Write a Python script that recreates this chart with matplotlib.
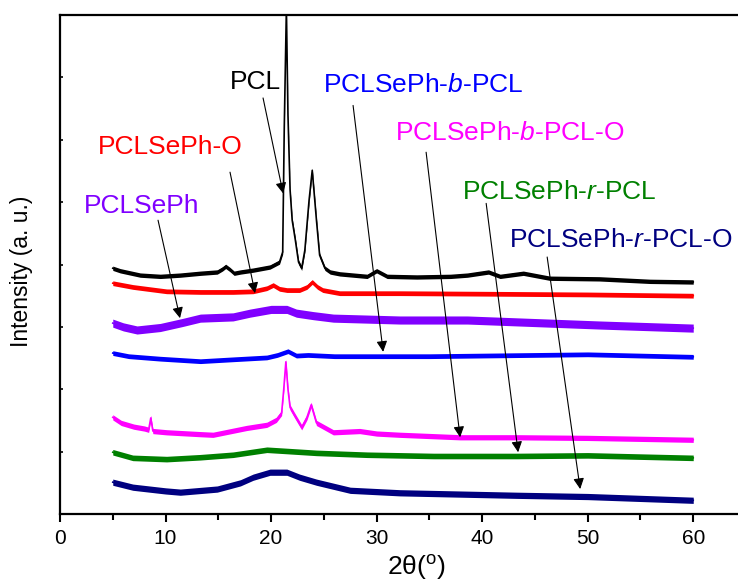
import matplotlib
matplotlib.use("Agg")
import matplotlib.pyplot as plt
from matplotlib.ticker import MultipleLocator
import numpy as np

plt.rcParams['font.family'] = ['Liberation Sans', 'DejaVu Sans']
plt.rcParams['mathtext.fontset'] = 'custom'
plt.rcParams['mathtext.rm'] = 'Liberation Sans'
plt.rcParams['mathtext.it'] = 'Liberation Sans:italic'

# ---- data (2theta in degrees, stacked intensity in a.u.) ----
pcl_x = [5.0, 5.7, 7.6, 9.5, 11.4, 13.3, 14.9, 15.4, 15.7, 16.1, 16.5, 17.1, 18.3, 19.9, 20.8,
         21.1, 21.25, 21.45, 21.6, 21.8, 22.0, 22.3, 22.6, 22.9, 23.2, 23.6, 23.9, 24.3,
         24.6, 25.1, 25.6, 26.5, 29.1, 30.0, 31.0, 33.8, 37.0, 38.6, 40.6, 41.7, 43.9,
         46.4, 51.1, 55.9, 60.0]
pcl_y = [3.94, 3.90, 3.83, 3.81, 3.83, 3.86, 3.88, 3.93, 3.97, 3.92, 3.86, 3.88, 3.91, 3.96, 4.04,
         4.20, 6.20, 8.10, 6.40, 5.20, 4.71, 4.39, 4.04, 3.94, 4.23, 5.03, 5.51, 4.71,
         4.15, 3.94, 3.88, 3.85, 3.81, 3.90, 3.81, 3.80, 3.81, 3.83, 3.88, 3.81, 3.86,
         3.78, 3.77, 3.73, 3.72]

o_x = [5.0, 6.9, 10.1, 13.3, 16.4, 18.3, 19.6, 20.2, 20.8, 21.5, 22.7, 23.4, 23.9, 24.4,
       24.9, 26.5, 32.2, 41.7, 50.0, 60.0]
o_y = [3.70, 3.64, 3.57, 3.56, 3.56, 3.57, 3.62, 3.67, 3.61, 3.59, 3.59, 3.64, 3.72, 3.64,
       3.59, 3.54, 3.54, 3.53, 3.52, 3.50]

ph_x = [5.0, 6.0, 7.3, 9.5, 11.6, 13.3, 16.4, 18.0, 20.0, 21.5, 22.4, 24.0, 25.9, 32.2,
        38.6, 43.3, 51.1, 60.0]
ph_y = [3.06, 3.00, 2.95, 2.99, 3.07, 3.14, 3.16, 3.22, 3.28, 3.28, 3.22, 3.18, 3.14, 3.11,
        3.11, 3.08, 3.03, 2.98]

b_x = [5.0, 6.5, 9.5, 13.3, 16.4, 19.6, 20.6, 21.6, 22.4, 23.5, 26.0, 35.0, 45.0, 50.0, 60.0]
b_y = [2.58, 2.53, 2.49, 2.45, 2.48, 2.51, 2.55, 2.61, 2.54, 2.55, 2.53, 2.53, 2.55, 2.56, 2.52]

bo_x = [5.0, 5.8, 7.0, 8.0, 8.4, 8.6, 8.8, 10.1, 13.3, 14.5, 17.7, 19.6, 20.5, 21.0, 21.2,
        21.4, 21.6, 21.8, 22.2, 22.9, 23.4, 23.8, 24.3, 25.9, 28.4, 30.0, 32.2, 37.9, 43.3,
        50.0, 60.0]
bo_y = [1.55, 1.46, 1.40, 1.37, 1.35, 1.54, 1.33, 1.31, 1.28, 1.27, 1.38, 1.43, 1.51, 1.62, 2.00,
        2.44, 2.00, 1.71, 1.59, 1.39, 1.55, 1.75, 1.46, 1.31, 1.33, 1.29, 1.27, 1.23, 1.23,
        1.22, 1.19]

r_x = [5.0, 6.9, 10.1, 13.3, 16.4, 19.6, 21.5, 24.3, 29.1, 35.4, 43.3, 50.0, 60.0]
r_y = [0.99, 0.90, 0.88, 0.91, 0.95, 1.03, 1.01, 0.98, 0.95, 0.93, 0.93, 0.94, 0.90]

ro_x = [5.0, 6.9, 10.0, 11.4, 14.9, 17.1, 18.3, 19.9, 21.5, 22.7, 24.3, 27.5, 32.2, 43.3,
        50.0, 60.0]
ro_y = [0.51, 0.43, 0.37, 0.35, 0.40, 0.50, 0.59, 0.67, 0.67, 0.59, 0.51, 0.38, 0.34, 0.30,
        0.28, 0.22]

labels = ['PCL', 'PCLSePh-O', 'PCLSePh', 'PCLSePh-$\\it{b}$-PCL', 'PCLSePh-$\\it{b}$-PCL-O',
          'PCLSePh-$\\it{r}$-PCL', 'PCLSePh-$\\it{r}$-PCL-O']
label_x = [16.1, 3.6, 2.3, 24.9, 31.7, 38.1, 42.5]
label_y = [6.92, 5.88, 4.94, 6.88, 6.11, 5.16, 4.39]
tail_x = [19.24, 16.11, 9.29, 27.77, 34.69, 40.38, 46.16]
tail_y = [6.67, 5.48, 4.71, 6.55, 5.80, 4.98, 4.12]
head_x = [21.14, 18.48, 11.37, 30.62, 37.91, 43.41, 49.29]
head_y = [5.14, 3.54, 3.14, 2.60, 1.23, 0.99, 0.40]

colors = ['black', '#FF0000', '#8000FF', '#0000FF', '#FF00FF', '#008000', '#000080']
bands = [0.035, 0.038, 0.065, 0.038, 0.042, 0.045, 0.05]

series = [(pcl_x, pcl_y), (o_x, o_y), (ph_x, ph_y), (b_x, b_y), (bo_x, bo_y), (r_x, r_y), (ro_x, ro_y)]

fig = plt.figure(figsize=(7.38, 5.83), dpi=100)
ax = fig.add_axes([60/738, 69/583, 686/738, 499/583])

for (xs, ys), c, h in zip(series, colors, bands):
    xs = np.asarray(xs); ys = np.asarray(ys)
    ax.fill_between(xs, ys - h, ys + h, color=c, lw=0)
    ax.plot(xs, ys, color=c, lw=1.2)

for t, lx, ly, tx, ty, hx, hy, c in zip(labels, label_x, label_y, tail_x, tail_y, head_x, head_y, colors):
    ax.text(lx, ly, t, color=c, fontsize=19, ha='left', va='center')
    ax.annotate('', xy=(hx, hy), xytext=(tx, ty),
                arrowprops=dict(arrowstyle='-|>', color='black', lw=0.8,
                                mutation_scale=16, shrinkA=0, shrinkB=0))

ax.set_xlim(0, 65)
ax.set_ylim(0, 8)
ax.xaxis.set_major_locator(MultipleLocator(10))
ax.xaxis.set_minor_locator(MultipleLocator(5))
ax.yaxis.set_major_locator(MultipleLocator(1))
ax.set_yticklabels([])
ax.tick_params(axis='x', which='major', direction='out', length=6, width=1.5, labelsize=15, pad=5)
ax.tick_params(axis='x', which='minor', direction='out', length=4, width=1.5)
ax.tick_params(axis='y', which='major', direction='in', length=2, width=1.2, left=True)
for s in ax.spines.values():
    s.set_linewidth(1.6)

ax.set_xlabel('2θ($^{\\rm o}$)', fontsize=19)
ax.xaxis.set_label_coords((416 - 60) / 686, -(567 - 514) / 499)
ax.xaxis.label.set_va('center')
fig.text(22/738, 1 - 271/583, 'Intensity (a. u.)', rotation=90, fontsize=16.5, ha='center', va='center')

fig.savefig('out.png', dpi=100)
